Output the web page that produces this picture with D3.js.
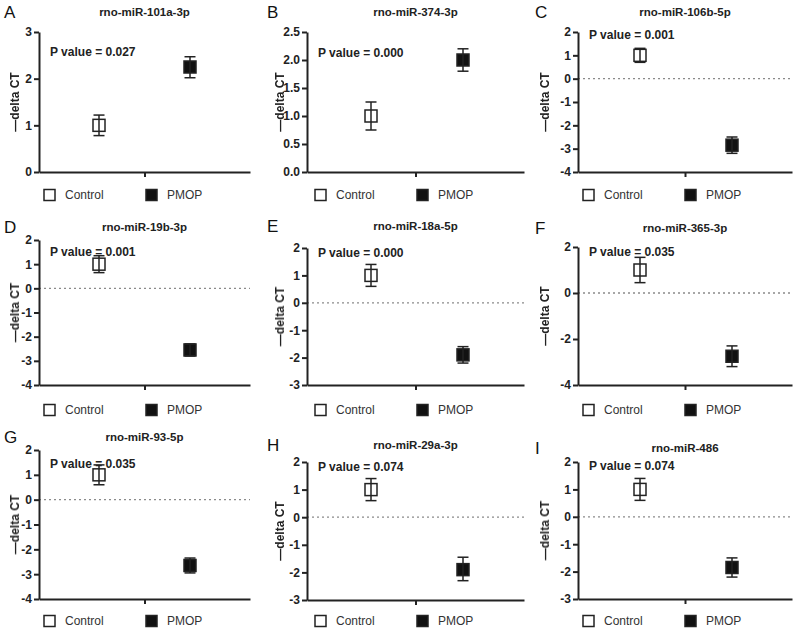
<!DOCTYPE html>
<html lang="en">
<head>
<meta charset="utf-8">
<title>delta CT of miRNAs, Control vs PMOP</title>
<script src="https://d3js.org/d3.v7.min.js"></script>
<style>
  body { margin: 0; background: #fff; }
  svg { font-family: "Liberation Sans", Arial, sans-serif; }
</style>
</head>
<body>
<script>
// data
const letters   = ["A", "B", "C", "D", "E", "F", "G", "H", "I"];
const titles    = ["rno-miR-101a-3p", "rno-miR-374-3p", "rno-miR-106b-5p",
                   "rno-miR-19b-3p", "rno-miR-18a-5p", "rno-miR-365-3p",
                   "rno-miR-93-5p", "rno-miR-29a-3p", "rno-miR-486"];
const pValues   = ["0.027", "0.000", "0.001", "0.001", "0.000", "0.035", "0.035", "0.074", "0.074"];
const groups    = ["Control", "PMOP"];
const ctrlMean  = [1.0, 1.0, 1.0, 1.0, 1.0, 1.0, 1.0, 1.0, 1.0];
const ctrlLo    = [0.78, 0.75, 0.7, 0.65, 0.6, 0.45, 0.6, 0.6, 0.6];
const ctrlHi    = [1.22, 1.25, 1.3, 1.35, 1.4, 1.55, 1.4, 1.4, 1.4];
const pmopMean  = [2.25, 2.0, -2.85, -2.55, -1.9, -2.75, -2.65, -1.9, -1.85];
const pmopLo    = [2.02, 1.8, -3.2, -2.8, -2.2, -3.2, -2.95, -2.3, -2.2];
const pmopHi    = [2.47, 2.2, -2.5, -2.3, -1.6, -2.3, -2.35, -1.45, -1.5];
const yMin      = [0, 0, -4, -4, -3, -4, -4, -3, -3];
const yMax      = [3, 2.5, 2, 2, 2, 2, 2, 2, 2];
const yStep     = [1, 0.5, 1, 1, 1, 2, 1, 1, 1];

// layout of each panel (pixels)
const cols = [
  {x0: 39,  x1: 250, cx: 99,  px: 190, lab: 15,  let: 4,   leg: 44},
  {x0: 307, x1: 524, cx: 371, px: 463, lab: 280, let: 267, leg: 315},
  {x0: 578, x1: 792, cx: 640, px: 732, lab: 545, let: 535, leg: 583}
];
const rows = [
  [{top: 32, bot: 172, title: 12, pY: 52},  {top: 32, bot: 172, title: 12, pY: 53},  {top: 32, bot: 172, title: 12, pY: 35}],
  [{top: 240, bot: 385, title: 227, pY: 252}, {top: 248, bot: 385, title: 226, pY: 253}, {top: 247, bot: 385, title: 228, pY: 252}],
  [{top: 450, bot: 599, title: 437, pY: 464}, {top: 462, bot: 600, title: 445, pY: 467}, {top: 462, bot: 599, title: 448, pY: 466}]
];
const legendY = [195, 410, 621];

const ink = "#222";

const svg = d3.select("body").append("svg")
  .attr("width", 800).attr("height", 638);

// grey filter so the rotated label gets no colour fringes
svg.append("defs").append("filter").attr("id", "grey")
  .append("feColorMatrix").attr("type", "saturate").attr("values", 0);

letters.forEach((L, i) => {
  const c = cols[i % 3];
  const r = rows[Math.floor(i / 3)][i % 3];
  const g = svg.append("g");

  const y = d3.scaleLinear().domain([yMin[i], yMax[i]]).range([r.bot, r.top]);
  const x = d3.scalePoint().domain(groups).range([c.cx, c.px]);
  const xl = d3.scaleLinear().domain([0, 1]).range([c.x0, c.x1]);

  const ticks = d3.range(yMin[i], yMax[i] + yStep[i] / 2, yStep[i]);
  // plain hyphen for negatives, like the original
  const fmt = v => (yStep[i] < 1 ? v.toFixed(1) : String(Math.round(v)));

  // panel letter
  g.append("text").attr("x", c.let).attr("y", r.title + 6)
    .attr("font-size", 17).attr("fill", "#111").text(L);

  // title
  g.append("text").attr("x", (c.x0 + c.x1) / 2).attr("y", r.title + 4)
    .attr("text-anchor", "middle").attr("font-size", 11.5).attr("font-weight", "bold")
    .attr("fill", ink).text(titles[i]);

  // zero line
  if (yMin[i] < 0) {
    g.append("line").attr("x1", c.x0).attr("x2", c.x1)
      .attr("y1", y(0)).attr("y2", y(0))
      .attr("stroke", "#8a8a8a").attr("stroke-width", 1.3)
      .attr("stroke-dasharray", "2,3");
  }

  // y axis
  const ya = g.append("g").attr("transform", `translate(${c.x0},0)`)
    .call(d3.axisLeft(y).tickValues(ticks).tickFormat(fmt).tickSize(5).tickPadding(2).tickSizeOuter(0));
  // x axis with a single centre tick
  const xa = g.append("g").attr("transform", `translate(0,${r.bot})`)
    .call(d3.axisBottom(xl).tickValues([0.5]).tickFormat("").tickSize(5).tickSizeOuter(0));
  [ya, xa].forEach(a => {
    a.select(".domain").attr("stroke", ink).attr("stroke-width", 2);
    a.selectAll(".tick line").attr("stroke", ink).attr("stroke-width", 2);
    a.selectAll(".tick text").attr("fill", ink).attr("font-size", 12)
      .attr("font-weight", "bold").attr("font-family", "'Liberation Sans', Arial, sans-serif");
  });

  // y label
  g.append("text")
    .attr("transform", `translate(${c.lab},${(r.top + r.bot) / 2}) rotate(-90)`)
    .attr("text-anchor", "middle").attr("dy", "0.35em")
    .attr("font-size", 12).attr("font-weight", "bold").attr("fill", ink)
    .attr("filter", "url(#grey)")
    .text("\u2014delta CT");

  // P value
  g.append("text").attr("x", c.x0 + 11).attr("y", r.pY).attr("dy", "0.35em")
    .attr("font-size", 12).attr("font-weight", "bold").attr("fill", ink)
    .text("P value = " + pValues[i]);

  // markers with error bars
  const pts = [
    {grp: "Control", m: ctrlMean[i], lo: ctrlLo[i], hi: ctrlHi[i], fill: "#fff"},
    {grp: "PMOP", m: pmopMean[i], lo: pmopLo[i], hi: pmopHi[i], fill: "#111"}
  ];
  const sz = 12, cap = 11;
  pts.forEach(p => {
    const px = x(p.grp);
    g.append("rect").attr("x", px - sz / 2).attr("y", y(p.m) - sz / 2)
      .attr("width", sz).attr("height", sz)
      .attr("fill", p.fill).attr("stroke", ink).attr("stroke-width", 1.5);
    g.append("line").attr("x1", px).attr("x2", px)
      .attr("y1", y(p.lo)).attr("y2", y(p.hi))
      .attr("stroke", ink).attr("stroke-width", 1.5);
    [p.lo, p.hi].forEach(v => {
      g.append("line").attr("x1", px - cap / 2).attr("x2", px + cap / 2)
        .attr("y1", y(v)).attr("y2", y(v))
        .attr("stroke", ink).attr("stroke-width", 1.5);
    });
  });

  // legend
  const ly = legendY[Math.floor(i / 3)];
  groups.forEach((gname, k) => {
    const lx = c.leg + k * 102;
    g.append("rect").attr("x", lx).attr("y", ly - 5.5).attr("width", 11).attr("height", 11)
      .attr("fill", k === 0 ? "#fff" : "#111").attr("stroke", ink).attr("stroke-width", 1.5);
    g.append("text").attr("x", lx + 21).attr("y", ly).attr("dy", "0.35em")
      .attr("font-size", 12).attr("fill", "#333").text(gname);
  });
});
</script>
</body>
</html>
